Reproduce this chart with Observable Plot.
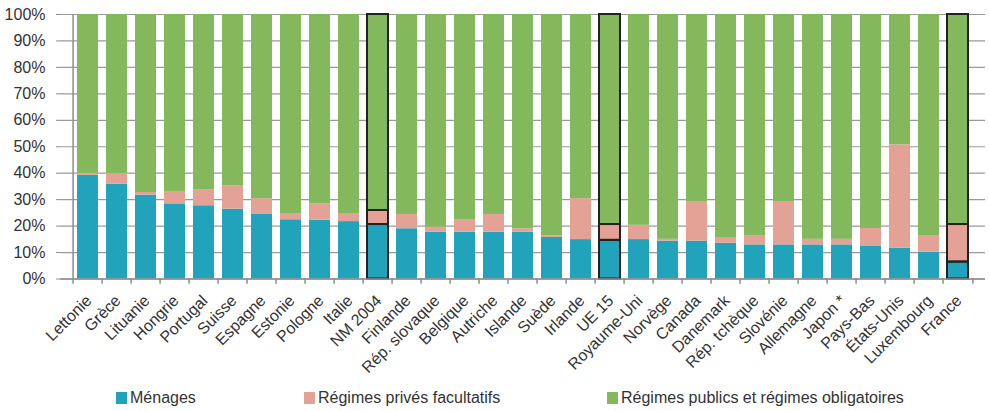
<!DOCTYPE html>
<html>
<head>
<meta charset="utf-8">
<script src="https://cdn.jsdelivr.net/npm/d3@7"></script>
<script src="https://cdn.jsdelivr.net/npm/@observablehq/plot@0.6"></script>
<style>
  body { margin: 0; background: #fff; font-family: "Liberation Sans", Arial, sans-serif; }
  #wrap { position: relative; width: 989px; height: 411px; }
  .leg { position: absolute; display: flex; align-items: center; font-size: 16px; color: #333; white-space: nowrap; line-height: 18px; }
  .sw { width: 11px; height: 12px; margin-right: 3px; }
</style>
</head>
<body>
<div id="wrap"></div>
<script>
// Data (percent of total)
const countries = ["Lettonie","Grèce","Lituanie","Hongrie","Portugal","Suisse","Espagne","Estonie","Pologne","Italie","NM 2004","Finlande","Rép. slovaque","Belgique","Autriche","Islande","Suède","Irlande","UE 15","Royaume-Uni","Norvège","Canada","Danemark","Rép. tchèque","Slovénie","Allemagne","Japon *","Pays-Bas","États-Unis","Luxembourg","France"];
const menages = [39.2,35.8,31.7,28.4,27.7,26.4,24.4,22.4,22.2,21.7,20.6,19.0,17.7,17.7,17.7,17.7,15.7,14.9,14.6,14.9,14.3,14.3,13.5,12.9,12.9,12.9,12.9,12.3,11.6,10.1,6.4];
const prives  = [0.7,4.1,1.0,4.7,6.1,8.9,6.0,2.1,6.3,2.8,5.3,5.4,1.9,4.8,6.7,1.3,0.7,15.5,6.0,5.4,0.7,15.0,2.2,3.5,16.4,2.1,2.1,6.8,39.1,6.1,14.2];
const publics = countries.map((c, i) => 100 - menages[i] - prives[i]);
const highlighted = ["NM 2004", "UE 15", "France"];
const seriesNames = ["Ménages", "Régimes privés facultatifs", "Régimes publics et régimes obligatoires"];
const seriesColors = ["#22a3bc", "#e4a196", "#84b85c"];
const yTicks = [0,10,20,30,40,50,60,70,80,90,100];

const rows = [];
countries.forEach((c, i) => {
  rows.push({pays: c, serie: seriesNames[0], v: menages[i]});
  rows.push({pays: c, serie: seriesNames[1], v: prives[i]});
  rows.push({pays: c, serie: seriesNames[2], v: publics[i]});
});
const hiRows = rows.filter(r => highlighted.includes(r.pays));

const W = 989, H = 380, mL = 60, mR = 4, mT = 14, mB = 101.5;
const step = (W - mL - mR) / countries.length;
const font = "'Liberation Sans', Arial, sans-serif";

const chart = Plot.plot({
  width: W, height: H,
  marginLeft: mL, marginRight: mR, marginTop: mT, marginBottom: mB,
  style: {fontFamily: font, fontSize: "16px", color: "#333", background: "#fff", overflow: "visible"},
  x: {domain: countries, paddingInner: 0.28, paddingOuter: 0.14, label: null},
  y: {domain: [0, 100], label: null},
  color: {domain: seriesNames, range: seriesColors},
  marks: [
    Plot.gridY(yTicks, {stroke: "#9a9a9a", strokeOpacity: 1, strokeWidth: 1.2}),
    Plot.barY(rows, {x: "pays", y: "v", fill: "serie", order: seriesNames}),
    Plot.barY(hiRows, {x: "pays", y: "v", fill: "none", stroke: "#222", strokeWidth: 2, order: seriesNames, z: "serie"}),
    Plot.ruleY([0], {stroke: "#8c8c8c", strokeWidth: 1.5}),
    Plot.ruleX([countries[0]], {x: d => d, dx: -step / 2, y1: 0, y2: 100, stroke: "#8c8c8c", strokeWidth: 1.5}),
    Plot.ruleX(countries, {x: d => d, dx: -step / 2, y1: 0, y2: -2, stroke: "#8c8c8c", strokeWidth: 1.5}),
    Plot.ruleX([countries[countries.length - 1]], {x: d => d, dx: step / 2, y1: 0, y2: -2, stroke: "#8c8c8c", strokeWidth: 1.5}),
    Plot.axisY({ticks: yTicks, tickFormat: d => d + "%", tickSize: 4, tickPadding: 11, stroke: "#8c8c8c", fill: "#333", fontSize: 16}),
    Plot.axisX({tickRotate: -45, tickSize: 0, tickPadding: 19, dx: 1, fill: "#333", fontSize: 16, label: null})
  ]
});

const wrap = document.getElementById("wrap");
wrap.appendChild(chart);

const legPos = [116, 304, 607];
seriesNames.forEach((name, i) => {
  const d = document.createElement("div");
  d.className = "leg";
  d.style.left = legPos[i] + "px";
  d.style.top = "389px";
  d.innerHTML = `<span class="sw" style="background:${seriesColors[i]}"></span><span>${name}</span>`;
  wrap.appendChild(d);
});
</script>
</body>
</html>
